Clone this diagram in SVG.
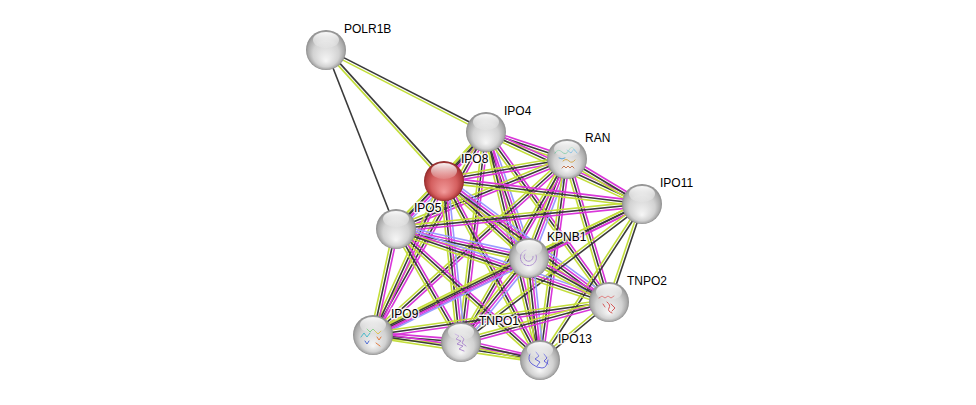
<svg xmlns="http://www.w3.org/2000/svg" xmlns:xlink="http://www.w3.org/1999/xlink" width="976" height="405" viewBox="0 0 976 405">
<style>
line{stroke-width:1.6;fill:none}
.m{stroke:#d936d9}
.k{stroke:#3a3a3a}
.y{stroke:#c3de3a}
.b{stroke:#9a9cff}
.lbl{font-family:"Liberation Sans",Arial,sans-serif;font-size:12px;fill:#000;stroke:#fff;stroke-width:3px;stroke-opacity:0.85;paint-order:stroke;stroke-linejoin:round}
.st{fill:none;stroke-width:0.9;stroke-linecap:round;stroke-linejoin:round}
</style>
<defs>
<radialGradient id="gg" cx="0.5" cy="0.5" r="0.5" fx="0.5" fy="0.78">
<stop offset="0" stop-color="#f6f6f6"/>
<stop offset="0.65" stop-color="#d2d2d2"/>
<stop offset="0.9" stop-color="#aaaaaa"/>
<stop offset="1" stop-color="#8c8c8c"/>
</radialGradient>
<radialGradient id="gr" cx="0.5" cy="0.5" r="0.5" fx="0.5" fy="0.78">
<stop offset="0" stop-color="#f29a9a"/>
<stop offset="0.65" stop-color="#d45f5f"/>
<stop offset="0.9" stop-color="#b13d3d"/>
<stop offset="1" stop-color="#8e2a2a"/>
</radialGradient>
<linearGradient id="hl" x1="0" y1="0" x2="0" y2="1">
<stop offset="0" stop-color="#fff" stop-opacity="0.95"/>
<stop offset="1" stop-color="#fff" stop-opacity="0.1"/>
</linearGradient>
<g id="ball"><circle r="20" fill="url(#gg)"/></g>
<g id="shine"><ellipse cx="0" cy="-10" rx="13" ry="8" fill="url(#hl)"/></g>
</defs>
<rect width="976" height="405" fill="#fff"/>
<g id="connectors">
<g transform="translate(326,50) rotate(27.13)"><line class="k" x2="179.8" y1="-1.3" y2="-1.3"/><line class="y" x2="179.8" y1="1.3" y2="1.3"/></g>
<g transform="translate(326,50) rotate(47.77)"><line class="k" x2="175.6" y1="-1.3" y2="-1.3"/><line class="y" x2="175.6" y1="1.3" y2="1.3"/></g>
<g transform="translate(326,50) rotate(68.64)"><line class="k" x2="192.2"/></g>

<g transform="translate(486,132) rotate(18.43)"><line class="m" x2="85.4" y1="-2.6" y2="-2.6"/><line class="k" x2="85.4"/><line class="y" x2="85.4" y1="2.6" y2="2.6"/></g>
<g transform="translate(486,132) rotate(131.19)"><line class="m" x2="63.8" y1="-2.6" y2="-2.6"/><line class="k" x2="63.8"/><line class="y" x2="63.8" y1="2.6" y2="2.6"/></g>
<g transform="translate(486,132) rotate(24.78)"><line class="m" x2="171.8" y1="-2.6" y2="-2.6"/><line class="k" x2="171.8"/><line class="y" x2="171.8" y1="2.6" y2="2.6"/></g>
<g transform="translate(486,132) rotate(132.85)"><line class="m" x2="132.3" y1="-2.6" y2="-2.6"/><line class="k" x2="132.3"/><line class="y" x2="132.3" y1="2.6" y2="2.6"/></g>
<g transform="translate(486,132) rotate(71.16)"><line class="b" x2="133.1" y1="-3.9" y2="-3.9"/><line class="m" x2="133.1" y1="-1.3" y2="-1.3"/><line class="k" x2="133.1" y1="1.3" y2="1.3"/><line class="y" x2="133.1" y1="3.9" y2="3.9"/></g>
<g transform="translate(486,132) rotate(54.11)"><line class="m" x2="209.8" y1="-2.6" y2="-2.6"/><line class="k" x2="209.8"/><line class="y" x2="209.8" y1="2.6" y2="2.6"/></g>
<g transform="translate(486,132) rotate(119.10)"><line class="m" x2="232.3" y1="-2.6" y2="-2.6"/><line class="k" x2="232.3"/><line class="y" x2="232.3" y1="2.6" y2="2.6"/></g>
<g transform="translate(486,132) rotate(96.79)"><line class="m" x2="211.5" y1="-2.6" y2="-2.6"/><line class="k" x2="211.5"/><line class="y" x2="211.5" y1="2.6" y2="2.6"/></g>
<g transform="translate(486,132) rotate(76.68)"><line class="m" x2="234.3" y1="-2.6" y2="-2.6"/><line class="k" x2="234.3"/><line class="y" x2="234.3" y1="2.6" y2="2.6"/></g>

<g transform="translate(567,159) rotate(170.31)"><line class="m" x2="124.8" y1="-2.6" y2="-2.6"/><line class="k" x2="124.8"/><line class="y" x2="124.8" y1="2.6" y2="2.6"/></g>
<g transform="translate(567,159) rotate(30.96)"><line class="m" x2="87.5" y1="-2.6" y2="-2.6"/><line class="k" x2="87.5"/><line class="y" x2="87.5" y1="2.6" y2="2.6"/></g>
<g transform="translate(567,159) rotate(157.74)"><line class="m" x2="184.8" y1="-2.6" y2="-2.6"/><line class="k" x2="184.8"/><line class="y" x2="184.8" y1="2.6" y2="2.6"/></g>
<g transform="translate(567,159) rotate(111.0)"><line class="b" x2="106" y1="-3.9" y2="-3.9"/><line class="m" x2="106" y1="-1.3" y2="-1.3"/><line class="k" x2="106" y1="1.3" y2="1.3"/><line class="y" x2="106" y1="3.9" y2="3.9"/></g>
<g transform="translate(567,159) rotate(73.63)"><line class="m" x2="149" y1="-2.6" y2="-2.6"/><line class="k" x2="149"/><line class="y" x2="149" y1="2.6" y2="2.6"/></g>
<g transform="translate(567,159) rotate(137.79)"><line class="m" x2="261.9" y1="-2.6" y2="-2.6"/><line class="k" x2="261.9"/><line class="y" x2="261.9" y1="2.6" y2="2.6"/></g>
<g transform="translate(567,159) rotate(120.08)"><line class="m" x2="211.5" y1="-2.6" y2="-2.6"/><line class="k" x2="211.5"/><line class="y" x2="211.5" y1="2.6" y2="2.6"/></g>
<g transform="translate(567,159) rotate(97.65)"><line class="m" x2="202.8" y1="-2.6" y2="-2.6"/><line class="k" x2="202.8"/><line class="y" x2="202.8" y1="2.6" y2="2.6"/></g>

<g transform="translate(444,180) rotate(6.91)"><line class="m" x2="199.4" y1="-2.6" y2="-2.6"/><line class="k" x2="199.4"/><line class="y" x2="199.4" y1="2.6" y2="2.6"/></g>
<g transform="translate(444,180) rotate(134.41)"><line class="b" x2="68.6" y1="-3.9" y2="-3.9"/><line class="m" x2="68.6" y1="-1.3" y2="-1.3"/><line class="k" x2="68.6" y1="1.3" y2="1.3"/><line class="y" x2="68.6" y1="3.9" y2="3.9"/></g>
<g transform="translate(444,180) rotate(42.54)"><line class="b" x2="115.4" y1="-3.9" y2="-3.9"/><line class="m" x2="115.4" y1="-1.3" y2="-1.3"/><line class="k" x2="115.4" y1="1.3" y2="1.3"/><line class="y" x2="115.4" y1="3.9" y2="3.9"/></g>
<g transform="translate(444,180) rotate(36.48)"><line class="b" x2="205.2" y1="-3.9" y2="-3.9"/><line class="m" x2="205.2" y1="-1.3" y2="-1.3"/><line class="k" x2="205.2" y1="1.3" y2="1.3"/><line class="y" x2="205.2" y1="3.9" y2="3.9"/></g>
<g transform="translate(444,180) rotate(114.61)"><line class="m" x2="170.5" y1="-2.6" y2="-2.6"/><line class="k" x2="170.5"/><line class="y" x2="170.5" y1="2.6" y2="2.6"/></g>
<g transform="translate(444,180) rotate(84.01)"><line class="b" x2="162.9" y1="-3.9" y2="-3.9"/><line class="m" x2="162.9" y1="-1.3" y2="-1.3"/><line class="k" x2="162.9" y1="1.3" y2="1.3"/><line class="y" x2="162.9" y1="3.9" y2="3.9"/></g>
<g transform="translate(444,180) rotate(61.93)"><line class="m" x2="204" y1="-2.6" y2="-2.6"/><line class="k" x2="204"/><line class="y" x2="204" y1="2.6" y2="2.6"/></g>

<g transform="translate(642,204) rotate(174.20)"><line class="m" x2="247.3" y1="-2.6" y2="-2.6"/><line class="k" x2="247.3"/><line class="y" x2="247.3" y1="2.6" y2="2.6"/></g>
<g transform="translate(642,204) rotate(154.46)"><line class="m" x2="125.2" y1="-2.6" y2="-2.6"/><line class="k" x2="125.2"/><line class="y" x2="125.2" y1="2.6" y2="2.6"/></g>
<g transform="translate(642,204) rotate(108.61)"><line class="k" x2="103.4" y1="-1.3" y2="-1.3"/><line class="y" x2="103.4" y1="1.3" y2="1.3"/></g>
<g transform="translate(642,204) rotate(154.03)"><line class="m" x2="299.2" y1="-2.6" y2="-2.6"/><line class="k" x2="299.2"/><line class="y" x2="299.2" y1="2.6" y2="2.6"/></g>
<g transform="translate(642,204) rotate(142.68)"><line class="k" x2="227.6" y1="-1.3" y2="-1.3"/><line class="y" x2="227.6" y1="1.3" y2="1.3"/></g>
<g transform="translate(642,204) rotate(123.18)"><line class="k" x2="186.4" y1="-1.3" y2="-1.3"/><line class="y" x2="186.4" y1="1.3" y2="1.3"/></g>

<g transform="translate(396,229) rotate(12.30)"><line class="b" x2="136.1" y1="-3.9" y2="-3.9"/><line class="m" x2="136.1" y1="-1.3" y2="-1.3"/><line class="k" x2="136.1" y1="1.3" y2="1.3"/><line class="y" x2="136.1" y1="3.9" y2="3.9"/></g>
<g transform="translate(396,229) rotate(18.92)"><line class="b" x2="225.2" y1="-3.9" y2="-3.9"/><line class="m" x2="225.2" y1="-1.3" y2="-1.3"/><line class="k" x2="225.2" y1="1.3" y2="1.3"/><line class="y" x2="225.2" y1="3.9" y2="3.9"/></g>
<g transform="translate(396,229) rotate(102.24)"><line class="m" x2="108.5" y1="-2.6" y2="-2.6"/><line class="k" x2="108.5"/><line class="y" x2="108.5" y1="2.6" y2="2.6"/></g>
<g transform="translate(396,229) rotate(60.09)"><line class="m" x2="130.4" y1="-2.6" y2="-2.6"/><line class="k" x2="130.4"/><line class="y" x2="130.4" y1="2.6" y2="2.6"/></g>
<g transform="translate(396,229) rotate(42.29)"><line class="m" x2="194.7" y1="-2.6" y2="-2.6"/><line class="k" x2="194.7"/><line class="y" x2="194.7" y1="2.6" y2="2.6"/></g>

<g transform="translate(529,258) rotate(28.81)"><line class="m" x2="91.3" y1="-2.6" y2="-2.6"/><line class="k" x2="91.3"/><line class="y" x2="91.3" y1="2.6" y2="2.6"/></g>
<g transform="translate(529,258) rotate(153.73)"><line class="b" x2="174" y1="-3.9" y2="-3.9"/><line class="m" x2="174" y1="-1.3" y2="-1.3"/><line class="k" x2="174" y1="1.3" y2="1.3"/><line class="y" x2="174" y1="3.9" y2="3.9"/></g>
<g transform="translate(529,258) rotate(128.99)"><line class="b" x2="108.1" y1="-3.9" y2="-3.9"/><line class="m" x2="108.1" y1="-1.3" y2="-1.3"/><line class="k" x2="108.1" y1="1.3" y2="1.3"/><line class="y" x2="108.1" y1="3.9" y2="3.9"/></g>
<g transform="translate(529,258) rotate(83.84)"><line class="b" x2="102.6" y1="-3.9" y2="-3.9"/><line class="m" x2="102.6" y1="-1.3" y2="-1.3"/><line class="k" x2="102.6" y1="1.3" y2="1.3"/><line class="y" x2="102.6" y1="3.9" y2="3.9"/></g>

<g transform="translate(609,302) rotate(172.04)"><line class="m" x2="238.3" y1="-2.6" y2="-2.6"/><line class="k" x2="238.3"/><line class="y" x2="238.3" y1="2.6" y2="2.6"/></g>
<g transform="translate(609,302) rotate(164.88)"><line class="m" x2="153.3" y1="-2.6" y2="-2.6"/><line class="k" x2="153.3"/><line class="y" x2="153.3" y1="2.6" y2="2.6"/></g>
<g transform="translate(609,302) rotate(139.95)"><line class="k" x2="90.1" y1="-1.3" y2="-1.3"/><line class="y" x2="90.1" y1="1.3" y2="1.3"/></g>

<g transform="translate(373,335) rotate(4.55)"><line class="m" x2="88.3" y1="-2.6" y2="-2.6"/><line class="k" x2="88.3"/><line class="y" x2="88.3" y1="2.6" y2="2.6"/></g>
<g transform="translate(373,335) rotate(8.51)"><line class="m" x2="168.9" y1="-2.6" y2="-2.6"/><line class="k" x2="168.9"/><line class="y" x2="168.9" y1="2.6" y2="2.6"/></g>
<g transform="translate(461,342) rotate(12.83)"><line class="m" x2="81" y1="-2.6" y2="-2.6"/><line class="k" x2="81"/><line class="y" x2="81" y1="2.6" y2="2.6"/></g>
</g>

<g id="node-POLR1B" transform="translate(326,50)"><use xlink:href="#ball"/><use xlink:href="#shine"/></g>
<g id="node-IPO4" transform="translate(486,132)"><use xlink:href="#ball"/><use xlink:href="#shine"/></g>
<g id="node-IPO11" transform="translate(642,204)"><use xlink:href="#ball"/><use xlink:href="#shine"/></g>
<g id="node-IPO5" transform="translate(396,229)"><use xlink:href="#ball"/><use xlink:href="#shine"/></g>
<g id="node-IPO8" transform="translate(444,181)"><circle r="20" fill="url(#gr)"/><use xlink:href="#shine"/></g>
<g id="node-RAN" transform="translate(567,159)"><use xlink:href="#ball"/>
<path class="st" stroke="#5ab88a" d="M-12,-6 q3,-5 7,-1 t7,-2 t6,1"/>
<path class="st" stroke="#4aa0d8" d="M0,-9 l4,3 l3,-4 l3,4 M-8,-1 q3,2 6,0"/>
<path class="st" stroke="#d0a040" d="M-4,2 q3,-3 6,0 t6,-1"/>
<path class="st" stroke="#c06a40" d="M-5,9 l2,-2 l2,2 l2,-2 l2,2 l2,-2 l2,2"/>
<use xlink:href="#shine"/></g>
<g id="node-KPNB1" transform="translate(529,258)"><use xlink:href="#ball"/>
<path class="st" stroke="#a682cc" stroke-dasharray="2 1" d="M-3,-8 A8,8 0 1 0 7,-3 M-4,-4 A4.5,4.5 0 1 0 4,-2"/>
<use xlink:href="#shine"/></g>
<g id="node-TNPO2" transform="translate(609,302)"><use xlink:href="#ball"/>
<path class="st" stroke="#d24a4a" d="M-10,-4 l3,-2 l3,2 l3,-2 l3,2 l3,-2 M-2,0 q4,3 2,6 t3,5 M2,2 l4,4 l-3,3 M-6,2 l2,3"/>
<use xlink:href="#shine"/></g>
<g id="node-IPO9" transform="translate(373,335)"><use xlink:href="#ball"/>
<path class="st" stroke="#3cb8c8" d="M-12,2 l3,-4 l3,4 l3,-4"/>
<path class="st" stroke="#58c060" d="M-6,-6 l3,3 l3,-3 l3,3"/>
<path class="st" stroke="#e0c040" d="M2,-4 l3,3 l3,-3"/>
<path class="st" stroke="#e07030" d="M4,2 l2,3 l2,-3 M3,8 l4,3"/>
<path class="st" stroke="#4060d0" d="M-8,6 l2,3 l2,-3"/>
<use xlink:href="#shine"/></g>
<g id="node-TNPO1" transform="translate(461,342)"><use xlink:href="#ball"/>
<path class="st" stroke="#a882cc" d="M-6,-8 l4,2 l-3,3 l5,2 l-4,3 l6,2 l-4,3 l5,2 M0,-6 l3,3 l-2,4 l4,3"/>
<use xlink:href="#shine"/></g>
<g id="node-IPO13" transform="translate(540,360)"><use xlink:href="#ball"/>
<path class="st" stroke="#5a5ad8" d="M-10,-6 q-3,6 2,10 t10,4 t6,-8 M-4,-8 l3,4 l-4,3 l5,3 l-3,4 M4,-6 l3,4 l-3,3 l4,3"/>
<use xlink:href="#shine"/></g>

<g id="labels">
<text class="lbl" x="344" y="33">POLR1B</text>
<text class="lbl" x="504" y="115">IPO4</text>
<text class="lbl" x="585" y="142">RAN</text>
<text class="lbl" x="461" y="163">IPO8</text>
<text class="lbl" x="660" y="187">IPO11</text>
<text class="lbl" x="414" y="212">IPO5</text>
<text class="lbl" x="547" y="241">KPNB1</text>
<text class="lbl" x="627" y="285">TNPO2</text>
<text class="lbl" x="391" y="318">IPO9</text>
<text class="lbl" x="479" y="325">TNPO1</text>
<text class="lbl" x="558" y="343">IPO13</text>
</g>
</svg>
